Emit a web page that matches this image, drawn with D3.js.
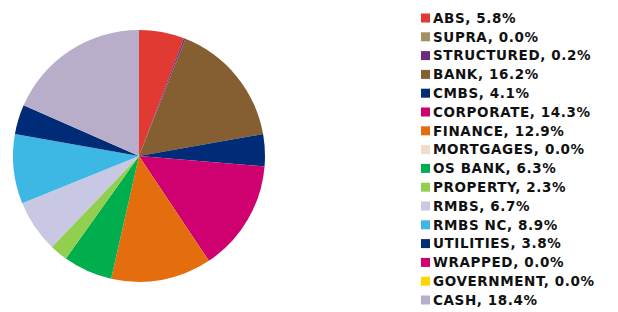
<!DOCTYPE html>
<html lang="en">
  <head>
    <meta charset="utf-8">
    <title>Sector allocation</title>
    <script src="https://d3js.org/d3.v7.min.js"></script>
    <style>
      body { margin: 0; background: #fff; }
      .legend text { font-family: "DejaVu Sans", sans-serif; font-weight: bold; font-size: 13.5px; letter-spacing: 0.6px; fill: #111; }
    </style>
  </head>
  <body>
    <script>
      var width = 618,
          height = 312;

      var sectors = ["ABS", "SUPRA", "STRUCTURED", "BANK", "CMBS", "CORPORATE", "FINANCE", "MORTGAGES",
                     "OS BANK", "PROPERTY", "RMBS", "RMBS NC", "UTILITIES", "WRAPPED", "GOVERNMENT", "CASH"];
      var weights = [5.8, 0.0, 0.2, 16.2, 4.1, 14.3, 12.9, 0.0, 6.3, 2.3, 6.7, 8.9, 3.8, 0.0, 0.0, 18.4];
      var colours = ["#e03a33", "#a09263", "#6a2c7e", "#855f31", "#002c77", "#cf006f", "#e46e0e", "#f2dcc8",
                     "#00ae4e", "#92cf4f", "#c9c8e4", "#3db8e5", "#002c77", "#cf006f", "#ffd500", "#b9aec9"];

      var data = sectors.map(function(s, i) { return { name: s, value: weights[i], colour: colours[i] }; });

      var svg = d3.select("body").append("svg")
          .attr("width", width)
          .attr("height", height);

      // pie
      var radius = 126;
      var pie = d3.pie().sort(null).value(function(d) { return d.value; });
      var arc = d3.arc().innerRadius(0).outerRadius(radius);

      svg.append("g")
          .attr("transform", "translate(139,156)")
        .selectAll("path")
          .data(pie(data))
        .enter().append("path")
          .attr("d", arc)
          .attr("fill", function(d) { return d.data.colour; });

      // legend
      var y = d3.scalePoint().domain(sectors).range([18, 300]);

      var item = svg.append("g")
          .attr("class", "legend")
        .selectAll("g")
          .data(data)
        .enter().append("g")
          .attr("transform", function(d) { return "translate(421," + y(d.name) + ")"; });

      item.append("rect")
          .attr("x", 0)
          .attr("y", -4.5)
          .attr("width", 9)
          .attr("height", 9)
          .attr("fill", function(d) { return d.colour; });

      item.append("text")
          .attr("x", 12)
          .attr("dy", "0.36em")
          .text(function(d) { return d.name + ", " + d.value.toFixed(1) + "%"; });
    </script>
  </body>
</html>
